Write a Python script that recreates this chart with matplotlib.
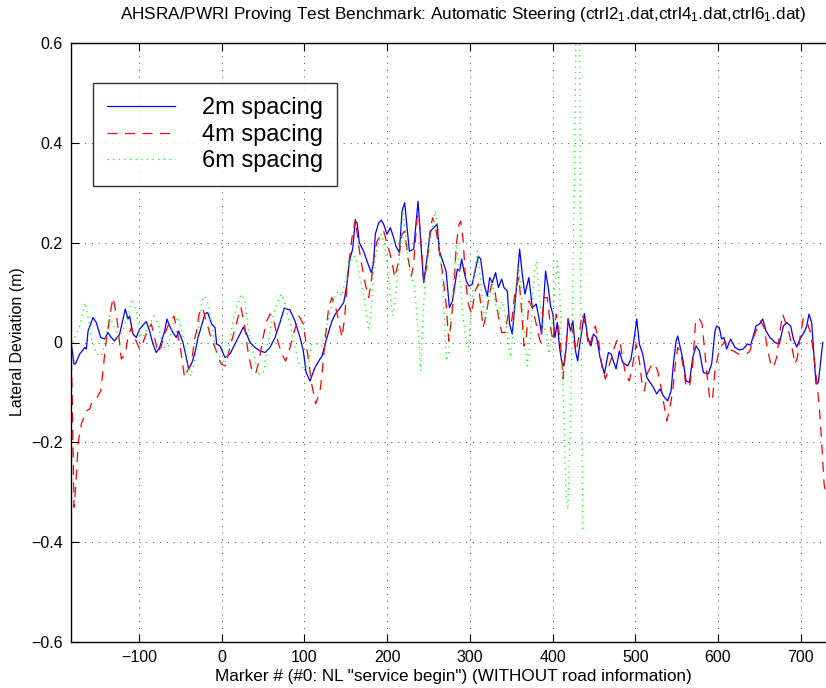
import matplotlib
matplotlib.use("Agg")
import matplotlib.pyplot as plt

plt.rcParams['font.family'] = ['Liberation Sans', 'DejaVu Sans']
plt.rcParams['mathtext.fontset'] = 'custom'
plt.rcParams['mathtext.rm'] = 'Liberation Sans'
plt.rcParams['mathtext.it'] = 'Liberation Sans'

# ---------------- data ----------------
blue_x = [-182.0, -178.6, -176.9, -171.7, -165.6, -163.6, -161.6, -155.6, -151.6, -146.3,
          -141.5, -137.5, -133.5, -129.5, -123.4, -116.6, -113.3, -111.3, -107.3, -103.3,
          -99.2, -91.2, -87.2, -83.1, -79.1, -75.1, -69.0, -66.2, -63.0, -59.0,
          -54.9, -52.1, -46.8, -42.8, -40.0, -35.9, -32.3, -28.7, -26.2, -20.2,
          -17.0, -12.1, -8.1, -6.1, -2.1, 4.0, 10.0, 16.1, 22.1, 26.2,
          30.2, 34.2, 40.3, 46.3, 52.4, 58.4, 64.5, 70.5, 75.7, 82.6,
          88.6, 94.7, 98.7, 102.0, 106.8, 112.8, 118.9, 121.3, 127.3, 133.3,
          137.4, 143.4, 147.5, 151.5, 154.3, 158.3, 161.6, 163.6, 166.4, 171.6,
          175.7, 180.9, 183.7, 185.7, 189.8, 193.0, 195.8, 199.8, 203.9, 207.9,
          210.7, 214.8, 218.0, 221.2, 224.1, 226.9, 232.1, 235.0, 237.4, 240.6,
          244.2, 248.3, 252.3, 256.3, 260.4, 263.2, 267.2, 271.3, 275.3, 278.9,
          282.1, 284.9, 287.7, 290.1, 292.9, 295.8, 299.0, 303.0, 306.3, 310.3,
          313.1, 317.1, 321.2, 324.0, 327.2, 331.2, 334.5, 338.5, 341.3, 345.3,
          348.1, 351.3, 354.6, 357.4, 360.2, 363.4, 366.6, 371.4, 375.5, 380.3,
          383.5, 386.8, 389.6, 391.6, 394.8, 397.6, 400.4, 402.9, 405.7, 408.5,
          410.9, 413.7, 416.5, 418.9, 421.8, 424.6, 427.8, 430.4, 432.4, 438.5,
          442.5, 446.5, 449.4, 453.4, 457.4, 462.7, 467.5, 470.7, 473.5, 476.8,
          480.8, 484.8, 490.9, 494.9, 498.9, 501.8, 505.0, 509.0, 513.9, 517.9,
          521.9, 525.9, 530.0, 534.0, 539.2, 543.3, 546.1, 549.3, 551.3, 555.4,
          558.2, 561.4, 565.5, 569.5, 573.5, 577.6, 582.3, 588.3, 592.4, 596.4,
          598.4, 601.6, 604.4, 607.3, 610.5, 615.3, 620.6, 625.9, 630.7, 635.5,
          639.5, 642.8, 646.0, 650.8, 654.1, 658.1, 662.9, 669.0, 674.2, 679.1,
          683.1, 687.9, 691.2, 695.2, 699.2, 704.1, 707.3, 710.1, 713.3, 716.2,
          718.6, 721.4, 724.3, 726.7]
blue_y = [0.000, -0.043, -0.043, -0.023, -0.010, -0.013, 0.023, 0.050, 0.040, 0.010,
          0.007, 0.020, 0.010, 0.003, 0.017, 0.067, 0.047, 0.053, 0.017, 0.010,
          0.027, 0.042, 0.023, -0.003, -0.020, -0.010, 0.023, 0.047, 0.033, 0.020,
          0.010, 0.023, 0.000, -0.030, -0.053, -0.040, -0.020, 0.010, 0.023, 0.058,
          0.060, 0.037, 0.030, -0.003, -0.007, -0.030, -0.023, -0.003, 0.017, 0.031,
          0.017, 0.000, -0.010, -0.017, -0.020, -0.010, 0.010, 0.040, 0.069, 0.065,
          0.043, 0.010, -0.017, -0.060, -0.077, -0.050, -0.033, -0.027, 0.010, 0.043,
          0.057, 0.070, 0.080, 0.117, 0.163, 0.187, 0.243, 0.240, 0.200, 0.183,
          0.163, 0.140, 0.160, 0.217, 0.240, 0.245, 0.237, 0.217, 0.230, 0.210,
          0.193, 0.180, 0.263, 0.280, 0.230, 0.183, 0.187, 0.240, 0.283, 0.203,
          0.120, 0.170, 0.223, 0.230, 0.237, 0.183, 0.163, 0.143, 0.070, 0.083,
          0.117, 0.147, 0.143, 0.167, 0.143, 0.123, 0.113, 0.117, 0.143, 0.173,
          0.167, 0.117, 0.093, 0.130, 0.120, 0.140, 0.110, 0.127, 0.110, 0.103,
          0.037, 0.017, 0.077, 0.130, 0.187, 0.137, 0.097, 0.130, 0.070, 0.077,
          0.050, 0.017, 0.090, 0.143, 0.110, 0.073, 0.057, 0.010, 0.040, -0.010,
          -0.037, -0.047, -0.010, 0.047, 0.023, 0.043, -0.017, -0.037, -0.010, 0.058,
          0.010, -0.007, 0.017, 0.010, -0.030, -0.063, -0.020, -0.023, -0.037, -0.053,
          -0.017, -0.040, -0.047, -0.033, 0.010, 0.047, -0.003, -0.023, -0.070, -0.080,
          -0.090, -0.103, -0.093, -0.107, -0.117, -0.097, -0.043, 0.003, 0.013, -0.017,
          -0.040, -0.077, -0.080, -0.030, -0.007, -0.017, -0.060, -0.063, -0.043, 0.023,
          0.033, 0.030, 0.007, 0.010, -0.013, 0.007, -0.010, -0.015, -0.013, -0.003,
          -0.005, 0.013, 0.033, 0.038, 0.047, 0.023, 0.010, 0.000, -0.003, 0.033,
          0.040, 0.033, 0.007, -0.009, 0.007, 0.020, 0.033, 0.057, 0.040, -0.030,
          -0.083, -0.080, -0.037, 0.000]

red_x = [-182.2, -180.6, -178.6, -176.5, -173.5, -169.7, -163.6, -159.6, -157.6, -149.5,
         -146.3, -143.5, -140.7, -137.5, -134.3, -131.4, -127.4, -125.4, -121.4, -116.6,
         -113.3, -109.3, -105.3, -99.2, -95.2, -89.9, -85.1, -81.1, -77.1, -73.0,
         -69.0, -65.0, -57.8, -53.8, -48.9, -44.9, -41.6, -36.8, -32.7, -29.5,
         -27.4, -23.4, -18.2, -13.0, -8.1, -0.8, 4.8, 8.0, 12.0, 16.1,
         20.1, 23.4, 27.4, 32.2, 37.1, 41.1, 45.1, 50.4, 54.4, 58.4,
         62.5, 67.7, 72.5, 77.3, 82.6, 87.8, 93.5, 98.7, 103.9, 108.8,
         113.6, 118.9, 121.5, 125.3, 129.3, 133.3, 137.4, 142.2, 145.4, 148.7,
         152.7, 157.5, 161.6, 165.6, 168.8, 173.6, 177.7, 180.9, 183.7, 187.7,
         191.8, 195.8, 201.9, 205.9, 209.1, 213.1, 218.0, 221.2, 225.2, 229.3,
         232.1, 236.2, 238.2, 242.2, 244.2, 248.3, 252.3, 255.1, 258.4, 263.2,
         267.2, 271.3, 274.5, 278.1, 280.9, 283.7, 286.9, 288.9, 291.8, 295.0,
         298.2, 302.2, 306.3, 310.3, 313.1, 316.0, 319.2, 322.4, 326.4, 330.4,
         334.5, 338.5, 342.5, 346.5, 350.6, 354.6, 359.4, 362.6, 365.5, 368.3,
         371.5, 375.5, 379.5, 382.7, 385.6, 389.6, 393.6, 397.6, 400.4, 404.5,
         407.7, 410.9, 412.6, 415.7, 418.9, 422.2, 425.8, 428.4, 432.4, 435.6,
         439.7, 443.7, 447.7, 451.7, 455.7, 459.8, 463.8, 466.6, 469.9, 471.9,
         474.7, 477.5, 480.8, 484.8, 488.0, 492.9, 497.7, 500.9, 505.0, 508.2,
         511.0, 515.1, 519.1, 523.1, 527.2, 531.2, 534.0, 538.1, 542.1, 545.3,
         548.5, 551.3, 554.2, 557.4, 561.4, 565.5, 569.5, 572.7, 576.8, 580.8,
         584.3, 587.1, 590.4, 593.6, 596.4, 600.4, 604.4, 608.5, 612.5, 618.6,
         624.6, 629.9, 634.7, 638.7, 642.8, 647.6, 651.6, 655.7, 659.7, 663.7,
         667.0, 671.0, 675.0, 678.2, 682.3, 686.3, 690.3, 693.2, 696.0, 699.2,
         703.3, 707.3, 711.3, 715.4, 719.4, 722.6, 725.5, 728.3, 731.0]
red_y = [0.000, -0.120, -0.330, -0.290, -0.200, -0.163, -0.137, -0.133, -0.123, -0.107,
         -0.097, -0.057, -0.010, 0.027, 0.063, 0.090, 0.057, 0.030, -0.033, -0.023,
         0.010, 0.030, 0.010, -0.013, 0.000, 0.023, 0.037, 0.010, -0.020, -0.007,
         0.017, 0.033, 0.053, 0.023, -0.023, -0.070, -0.057, -0.043, 0.007, 0.030,
         0.057, 0.070, 0.040, 0.010, -0.010, -0.043, -0.047, -0.023, 0.003, 0.027,
         0.053, 0.070, 0.037, -0.023, -0.060, -0.062, -0.037, 0.013, 0.043, 0.057,
         0.050, 0.003, -0.023, -0.037, -0.010, 0.023, 0.053, 0.037, -0.023, -0.083,
         -0.123, -0.097, -0.060, 0.010, 0.070, 0.090, 0.073, 0.037, 0.010, 0.050,
         0.143, 0.210, 0.247, 0.193, 0.160, 0.117, 0.090, 0.123, 0.170, 0.203,
         0.213, 0.223, 0.187, 0.163, 0.130, 0.157, 0.217, 0.223, 0.170, 0.133,
         0.157, 0.250, 0.257, 0.177, 0.120, 0.157, 0.230, 0.250, 0.233, 0.180,
         0.137, 0.077, 0.003, 0.050, 0.110, 0.197, 0.237, 0.243, 0.207, 0.123,
         0.077, 0.057, 0.103, 0.117, 0.077, 0.030, 0.050, 0.083, 0.117, 0.103,
         0.053, 0.020, 0.020, 0.057, 0.043, 0.103, 0.130, 0.063, -0.007, 0.010,
         0.083, 0.070, 0.043, 0.017, 0.000, 0.090, 0.090, 0.030, 0.003, 0.057,
         0.023, -0.023, -0.073, -0.017, 0.050, 0.043, 0.003, -0.020, 0.017, 0.057,
         0.037, -0.010, 0.010, 0.033, 0.003, -0.050, -0.073, -0.060, -0.037, -0.030,
         -0.010, 0.003, 0.007, -0.030, -0.063, -0.077, -0.037, -0.003, -0.037, -0.083,
         -0.097, -0.060, -0.047, -0.042, -0.057, -0.090, -0.117, -0.157, -0.130, -0.097,
         -0.043, -0.010, -0.017, -0.043, -0.087, -0.090, -0.043, 0.037, 0.050, 0.037,
         -0.023, -0.070, -0.117, -0.110, -0.057, -0.023, -0.007, 0.003, -0.013, -0.017,
         -0.023, -0.025, -0.023, -0.017, 0.010, 0.030, 0.043, 0.030, -0.010, -0.043,
         -0.050, -0.030, 0.023, 0.057, 0.037, 0.017, -0.017, -0.043, -0.030, 0.010,
         0.050, 0.043, 0.023, -0.017, -0.077, -0.130, -0.203, -0.283, -0.310]

green_x = [-180.0, -177.8, -171.7, -167.7, -164.9, -161.6, -157.6, -151.6, -145.5, -141.5,
           -137.5, -135.5, -131.4, -125.4, -119.3, -113.3, -108.5, -103.3, -99.2, -95.2,
           -89.1, -81.9, -77.1, -71.0, -65.0, -58.9, -52.9, -48.1, -42.8, -37.6,
           -33.5, -29.5, -26.0, -24.2, -20.2, -16.2, -12.1, -6.1, 0.0, 4.0,
           8.0, 12.9, 18.1, 24.2, 28.2, 32.2, 38.3, 44.3, 50.4, 54.4,
           58.4, 62.5, 66.5, 71.7, 76.5, 82.6, 88.6, 93.5, 98.7, 104.8,
           108.8, 114.8, 120.9, 125.3, 129.3, 135.4, 141.4, 145.4, 149.5, 153.5,
           157.5, 161.6, 164.8, 168.8, 172.8, 175.7, 177.7, 180.9, 183.7, 187.7,
           193.0, 197.0, 201.1, 203.9, 206.7, 210.7, 214.8, 218.8, 222.0, 225.2,
           229.3, 233.3, 236.2, 239.0, 240.6, 243.0, 246.2, 250.3, 254.3, 258.4,
           261.6, 264.4, 267.2, 269.7, 271.3, 274.5, 278.1, 280.9, 283.7, 286.1,
           288.9, 291.8, 295.0, 298.2, 301.0, 305.1, 309.1, 311.9, 315.1, 318.4,
           322.4, 326.4, 330.4, 334.5, 338.5, 342.5, 347.4, 349.4, 352.2, 355.4,
           359.4, 362.6, 365.9, 369.5, 373.5, 377.5, 380.3, 383.5, 387.6, 391.6,
           395.6, 399.6, 402.9, 405.7, 408.5, 410.9, 412.9, 414.9, 416.5, 418.5,
           421.0, 424.0, 427.0, 429.0, 432.0, 434.0, 436.5]
green_y = [0.000, 0.010, 0.033, 0.063, 0.080, 0.050, 0.010, -0.023, -0.027, -0.003,
           0.040, 0.053, 0.037, 0.010, 0.023, 0.060, 0.087, 0.063, 0.017, 0.010,
           0.030, 0.053, 0.037, -0.010, -0.010, 0.037, 0.051, 0.023, -0.037, -0.067,
           -0.043, -0.003, 0.060, 0.083, 0.093, 0.077, 0.030, -0.023, -0.033, -0.043,
           -0.017, 0.037, 0.073, 0.097, 0.083, 0.023, -0.023, -0.063, -0.060, -0.017,
           0.023, 0.057, 0.077, 0.097, 0.077, 0.037, -0.010, -0.043, -0.053, -0.043,
           -0.003, -0.003, -0.007, 0.023, 0.050, 0.090, 0.103, 0.093, 0.123, 0.157,
           0.170, 0.173, 0.150, 0.117, 0.083, 0.050, 0.023, 0.070, 0.143, 0.190,
           0.217, 0.193, 0.143, 0.090, 0.053, 0.103, 0.170, 0.263, 0.223, 0.163,
           0.130, 0.110, 0.050, -0.010, -0.057, 0.037, 0.137, 0.190, 0.230, 0.263,
           0.230, 0.170, 0.110, 0.037, -0.037, -0.017, 0.070, 0.150, 0.197, 0.170,
           0.103, 0.050, 0.010, -0.010, 0.050, 0.137, 0.183, 0.143, 0.083, 0.043,
           0.090, 0.117, 0.083, 0.050, 0.083, 0.057, -0.010, -0.030, 0.023, 0.103,
           0.150, 0.090, 0.023, -0.047, 0.017, 0.130, 0.163, 0.103, 0.037, 0.023,
           -0.023, 0.037, 0.110, 0.163, 0.103, 0.003, -0.110, -0.230, -0.310, -0.335,
           -0.200, 0.050, 0.400, 0.750, 0.900, 0.100, -0.380]

x_ticks = [-100, 0, 100, 200, 300, 400, 500, 600, 700]
y_ticks = [-0.6, -0.4, -0.2, 0, 0.2, 0.4, 0.6]
y_tick_labels = ['\u22120.6', '\u22120.4', '\u22120.2', '0', '0.2', '0.4', '0.6']
x_tick_labels = ['\u2212100', '0', '100', '200', '300', '400', '500', '600', '700']
series_labels = ['2m spacing', '4m spacing', '6m spacing']

# ---------------- figure ----------------
W, H = 826, 688
fig = plt.figure(figsize=(W / 100, H / 100), dpi=100)
left_px, right_px, top_px, bottom_px = 71, 835, 43, 642
ax = fig.add_axes([left_px / W, 1 - bottom_px / H, (right_px - left_px) / W,
                   (bottom_px - top_px) / H])

ax.plot(blue_x, blue_y, color=(0, 0, 1), lw=0.9, label=series_labels[0])
ax.plot(red_x, red_y, color=(1, 0, 0), lw=0.9, dashes=(8, 6), label=series_labels[1])
ax.plot(green_x, green_y, color=(0, 1, 0), lw=0.9, linestyle=(0, (1, 3.5)),
        label=series_labels[2])

x0 = -182.2
x1 = x0 + (right_px - left_px) / 0.8271
ax.set_xlim(x0, x1)
ax.set_ylim(-0.6, 0.6)
ax.set_xticks(x_ticks)
ax.set_xticklabels(x_tick_labels)
ax.set_yticks(y_ticks)
ax.set_yticklabels(y_tick_labels)
ax.tick_params(direction='in', length=6, width=0.8, top=True, right=True,
               labelsize=11.5, pad=6)
for s in ax.spines.values():
    s.set_linewidth(1.0)
ax.grid(True, color='#444444', lw=0.7, linestyle=(0, (1, 6)))

leg = ax.legend(loc='upper left', bbox_to_anchor=(0.029, 0.933), fontsize=17,
                handlelength=2.85, handletextpad=1.15, labelspacing=0.19,
                borderpad=0.6, frameon=True, fancybox=False, borderaxespad=0)
leg.get_frame().set_edgecolor('black')
leg.get_frame().set_linewidth(1.0)

fig.text(463 / W, 1 - 15 / H,
         'AHSRA/PWRI Proving Test Benchmark: Automatic Steering '
         '(ctrl2$_1$.dat,ctrl4$_1$.dat,ctrl6$_1$.dat)',
         ha='center', va='center', fontsize=12.3)
fig.text(453 / W, 1 - 676 / H,
         'Marker # (#0: NL "service begin") (WITHOUT road information)',
         ha='center', va='center', fontsize=12.3)
fig.text(18 / W, 1 - 342 / H, 'Lateral Deviation (m)', rotation=90,
         ha='center', va='center', fontsize=11.5)

fig.savefig('out.png', dpi=100)
